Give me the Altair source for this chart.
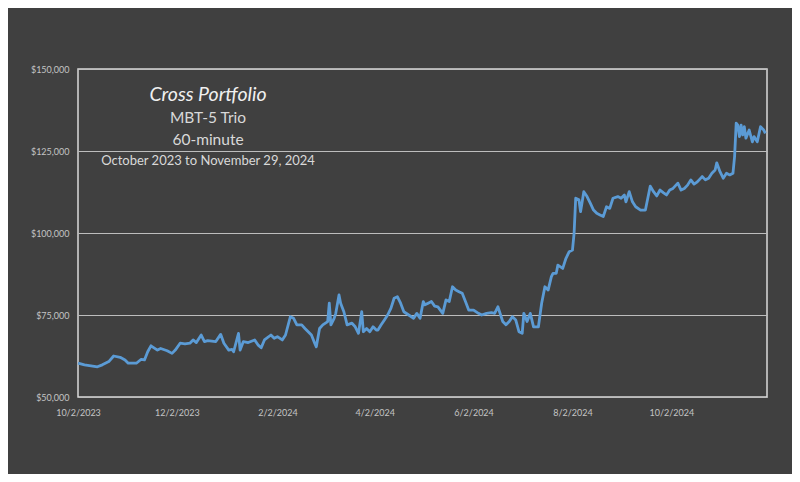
import altair as alt
import pandas as pd

dates = [
    "2023-10-02", "2023-10-06", "2023-10-14", "2023-10-17", "2023-10-21", "2023-10-24", "2023-10-28", "2023-10-31",
    "2023-11-02", "2023-11-07", "2023-11-10", "2023-11-12", "2023-11-14", "2023-11-16", "2023-11-20", "2023-11-22",
    "2023-11-26", "2023-11-29", "2023-12-01", "2023-12-04", "2023-12-07", "2023-12-10", "2023-12-12", "2023-12-14",
    "2023-12-17", "2023-12-19", "2023-12-21", "2023-12-26", "2023-12-29", "2023-12-31",
    "2024-01-03", "2024-01-05", "2024-01-06", "2024-01-09", "2024-01-10", "2024-01-12", "2024-01-15", "2024-01-19",
    "2024-01-21", "2024-01-23", "2024-01-25", "2024-01-29", "2024-01-31",
    "2024-02-02", "2024-02-05", "2024-02-07", "2024-02-10", "2024-02-12", "2024-02-14", "2024-02-17", "2024-02-19",
    "2024-02-23", "2024-02-25", "2024-02-26", "2024-02-28",
    "2024-03-01", "2024-03-04", "2024-03-05", "2024-03-06", "2024-03-08", "2024-03-09", "2024-03-11", "2024-03-12",
    "2024-03-14", "2024-03-16", "2024-03-19", "2024-03-21", "2024-03-23", "2024-03-25", "2024-03-26", "2024-03-28",
    "2024-03-30",
    "2024-04-01", "2024-04-03", "2024-04-04", "2024-04-06", "2024-04-08", "2024-04-10", "2024-04-12", "2024-04-14",
    "2024-04-16", "2024-04-18", "2024-04-20", "2024-04-23", "2024-04-26", "2024-04-28", "2024-04-30",
    "2024-05-02", "2024-05-03", "2024-05-05", "2024-05-07", "2024-05-09", "2024-05-11", "2024-05-14", "2024-05-16",
    "2024-05-18", "2024-05-20", "2024-05-22", "2024-05-24", "2024-05-26", "2024-05-28", "2024-05-30",
    "2024-06-02", "2024-06-05", "2024-06-07", "2024-06-10", "2024-06-13", "2024-06-15", "2024-06-17", "2024-06-20",
    "2024-06-22", "2024-06-24", "2024-06-26", "2024-06-28", "2024-06-30",
    "2024-07-02", "2024-07-03", "2024-07-05", "2024-07-07", "2024-07-09", "2024-07-12", "2024-07-14", "2024-07-16",
    "2024-07-18", "2024-07-20", "2024-07-21", "2024-07-23", "2024-07-24", "2024-07-27", "2024-07-29", "2024-07-31",
    "2024-08-02", "2024-08-03", "2024-08-04", "2024-08-06", "2024-08-07", "2024-08-09", "2024-08-11", "2024-08-13",
    "2024-08-15", "2024-08-17", "2024-08-19", "2024-08-21", "2024-08-23", "2024-08-25", "2024-08-27", "2024-08-30",
    "2024-09-01", "2024-09-03", "2024-09-04", "2024-09-06", "2024-09-08", "2024-09-10", "2024-09-13", "2024-09-16",
    "2024-09-19", "2024-09-21", "2024-09-23", "2024-09-25", "2024-09-27", "2024-09-29",
    "2024-10-01", "2024-10-03", "2024-10-06", "2024-10-08", "2024-10-10", "2024-10-12", "2024-10-14", "2024-10-16",
    "2024-10-18", "2024-10-21", "2024-10-23", "2024-10-25", "2024-10-27", "2024-10-29", "2024-10-30",
    "2024-11-01", "2024-11-03", "2024-11-05", "2024-11-07", "2024-11-09", "2024-11-10", "2024-11-11", "2024-11-12",
    "2024-11-13", "2024-11-14", "2024-11-15", "2024-11-16", "2024-11-17", "2024-11-19", "2024-11-21", "2024-11-22",
    "2024-11-24", "2024-11-26", "2024-11-28", "2024-11-29",
]

values = [
    60300, 59800, 59200, 59800, 60800, 62500, 62100, 61300,
    60300, 60300, 61500, 61300, 63800, 65600, 64300, 64800,
    64100, 63300, 64300, 66400, 66200, 66400, 67400, 66600,
    68900, 66900, 67200, 66900, 69100, 66400,
    64300, 64500, 63800, 69400, 64300, 66900, 66600, 67400,
    65900, 65000, 67400, 68900, 67900,
    68400, 67400, 68900, 74500, 74000, 72000, 72000, 70900,
    68900, 66400, 65300, 70900,
    72000, 73000, 78600, 72000, 74000, 75500, 81100, 78600,
    76000, 72000, 72500, 71400, 69400, 76000, 69900, 70900,
    69900,
    71400, 70400, 70400, 72000, 73500, 75000, 77000, 80100,
    80600, 78600, 76000, 75000, 74000, 75500, 74000,
    79100, 78100, 78600, 79100, 77700, 77500, 75500, 79600,
    79100, 83600, 82600, 82100, 81600, 79100, 76500,
    76500, 75500, 75000, 75500, 75700, 75500, 77500, 73000,
    72000, 73000, 74500, 73500, 69900,
    69400, 75500, 73000, 75500, 71400, 71400, 78600, 83600,
    82600, 86700, 87700, 87700, 90200, 89200, 92300, 94300,
    94800, 99900, 110600, 110100, 106500, 112600, 111100, 109100,
    107000, 106000, 105500, 105000, 108000, 107500, 110600, 111100,
    110600, 111600, 109500, 112600, 109500, 108000, 107000, 107000,
    114300, 112600, 111300, 113100, 112300, 111600,
    113100, 113600, 115200, 113100, 113600, 114600, 116200, 114900,
    115600, 117200, 116200, 116700, 118200, 119200, 121400,
    118700, 116700, 118200, 117700, 118200, 123300, 133500, 132900,
    129400, 132900, 129900, 132400, 128900, 131400, 127800, 129400,
    127800, 132400, 131400, 130400,
]

y_ticks = [50000, 75000, 100000, 125000, 150000]
x_tick_dates = [(2023, 10, 2), (2023, 12, 2), (2024, 2, 2), (2024, 4, 2),
                (2024, 6, 2), (2024, 8, 2), (2024, 10, 2)]

title_lines = ["Cross Portfolio", "MBT-5 Trio", "60-minute", "October 2023 to November 29, 2024"]

df = pd.DataFrame({"date": pd.to_datetime(dates), "value": values})

BG = "#404040"
LABEL = "#c4c4c4"
FONT = "Lato"

x_enc = alt.X(
    "date:T",
    scale=alt.Scale(domain=[alt.DateTime(year=2023, month=10, date=2),
                            alt.DateTime(year=2024, month=11, date=30)]),
    axis=alt.Axis(
        values=[alt.DateTime(year=y, month=m, date=d) for (y, m, d) in x_tick_dates],
        format="%-m/%-d/%Y", title=None, grid=False, ticks=False, domain=False,
        labelColor=LABEL, labelFont=FONT, labelFontSize=9, labelPadding=11,
        labelFlush=False, labelOverlap=False,
    ),
)
y_enc = alt.Y(
    "value:Q",
    scale=alt.Scale(domain=[50000, 150000], nice=False, zero=False),
    axis=alt.Axis(
        values=y_ticks, format="$,.0f", title=None, grid=True, gridColor="#bdbdbd",
        gridWidth=1, ticks=False, domain=False, labelColor=LABEL, labelFont=FONT,
        labelFontSize=9, labelPadding=9,
    ),
)

line = alt.Chart(df).mark_line(color="#5b9bd5", strokeWidth=2.8, strokeJoin="round").encode(
    x=x_enc, y=y_enc
)

def text_layer(txt, y, size, italic=False, color="#d9d9d9"):
    return alt.Chart(pd.DataFrame({"t": [txt]})).mark_text(
        font=FONT, fontSize=size, fontStyle="italic" if italic else "normal",
        color=color, align="center", baseline="middle",
    ).encode(text="t:N", x=alt.value(130), y=alt.value(y))

chart = alt.layer(
    line,
    text_layer(title_lines[0], 26, 19.5, italic=True, color="#f0f0f0"),
    text_layer(title_lines[1], 49, 15.5),
    text_layer(title_lines[2], 71, 15.5),
    text_layer(title_lines[3], 92, 13),
).properties(
    width=689, height=328,
    background=BG,
    padding={"left": 70, "top": 61, "right": 25, "bottom": 77},
    autosize=alt.AutoSizeParams(type="none"),
).configure_view(
    stroke="#d9d9d9", strokeWidth=1.5, fill=BG,
)

chart.save("out.html", embed_options={"renderer": "svg", "actions": False})
